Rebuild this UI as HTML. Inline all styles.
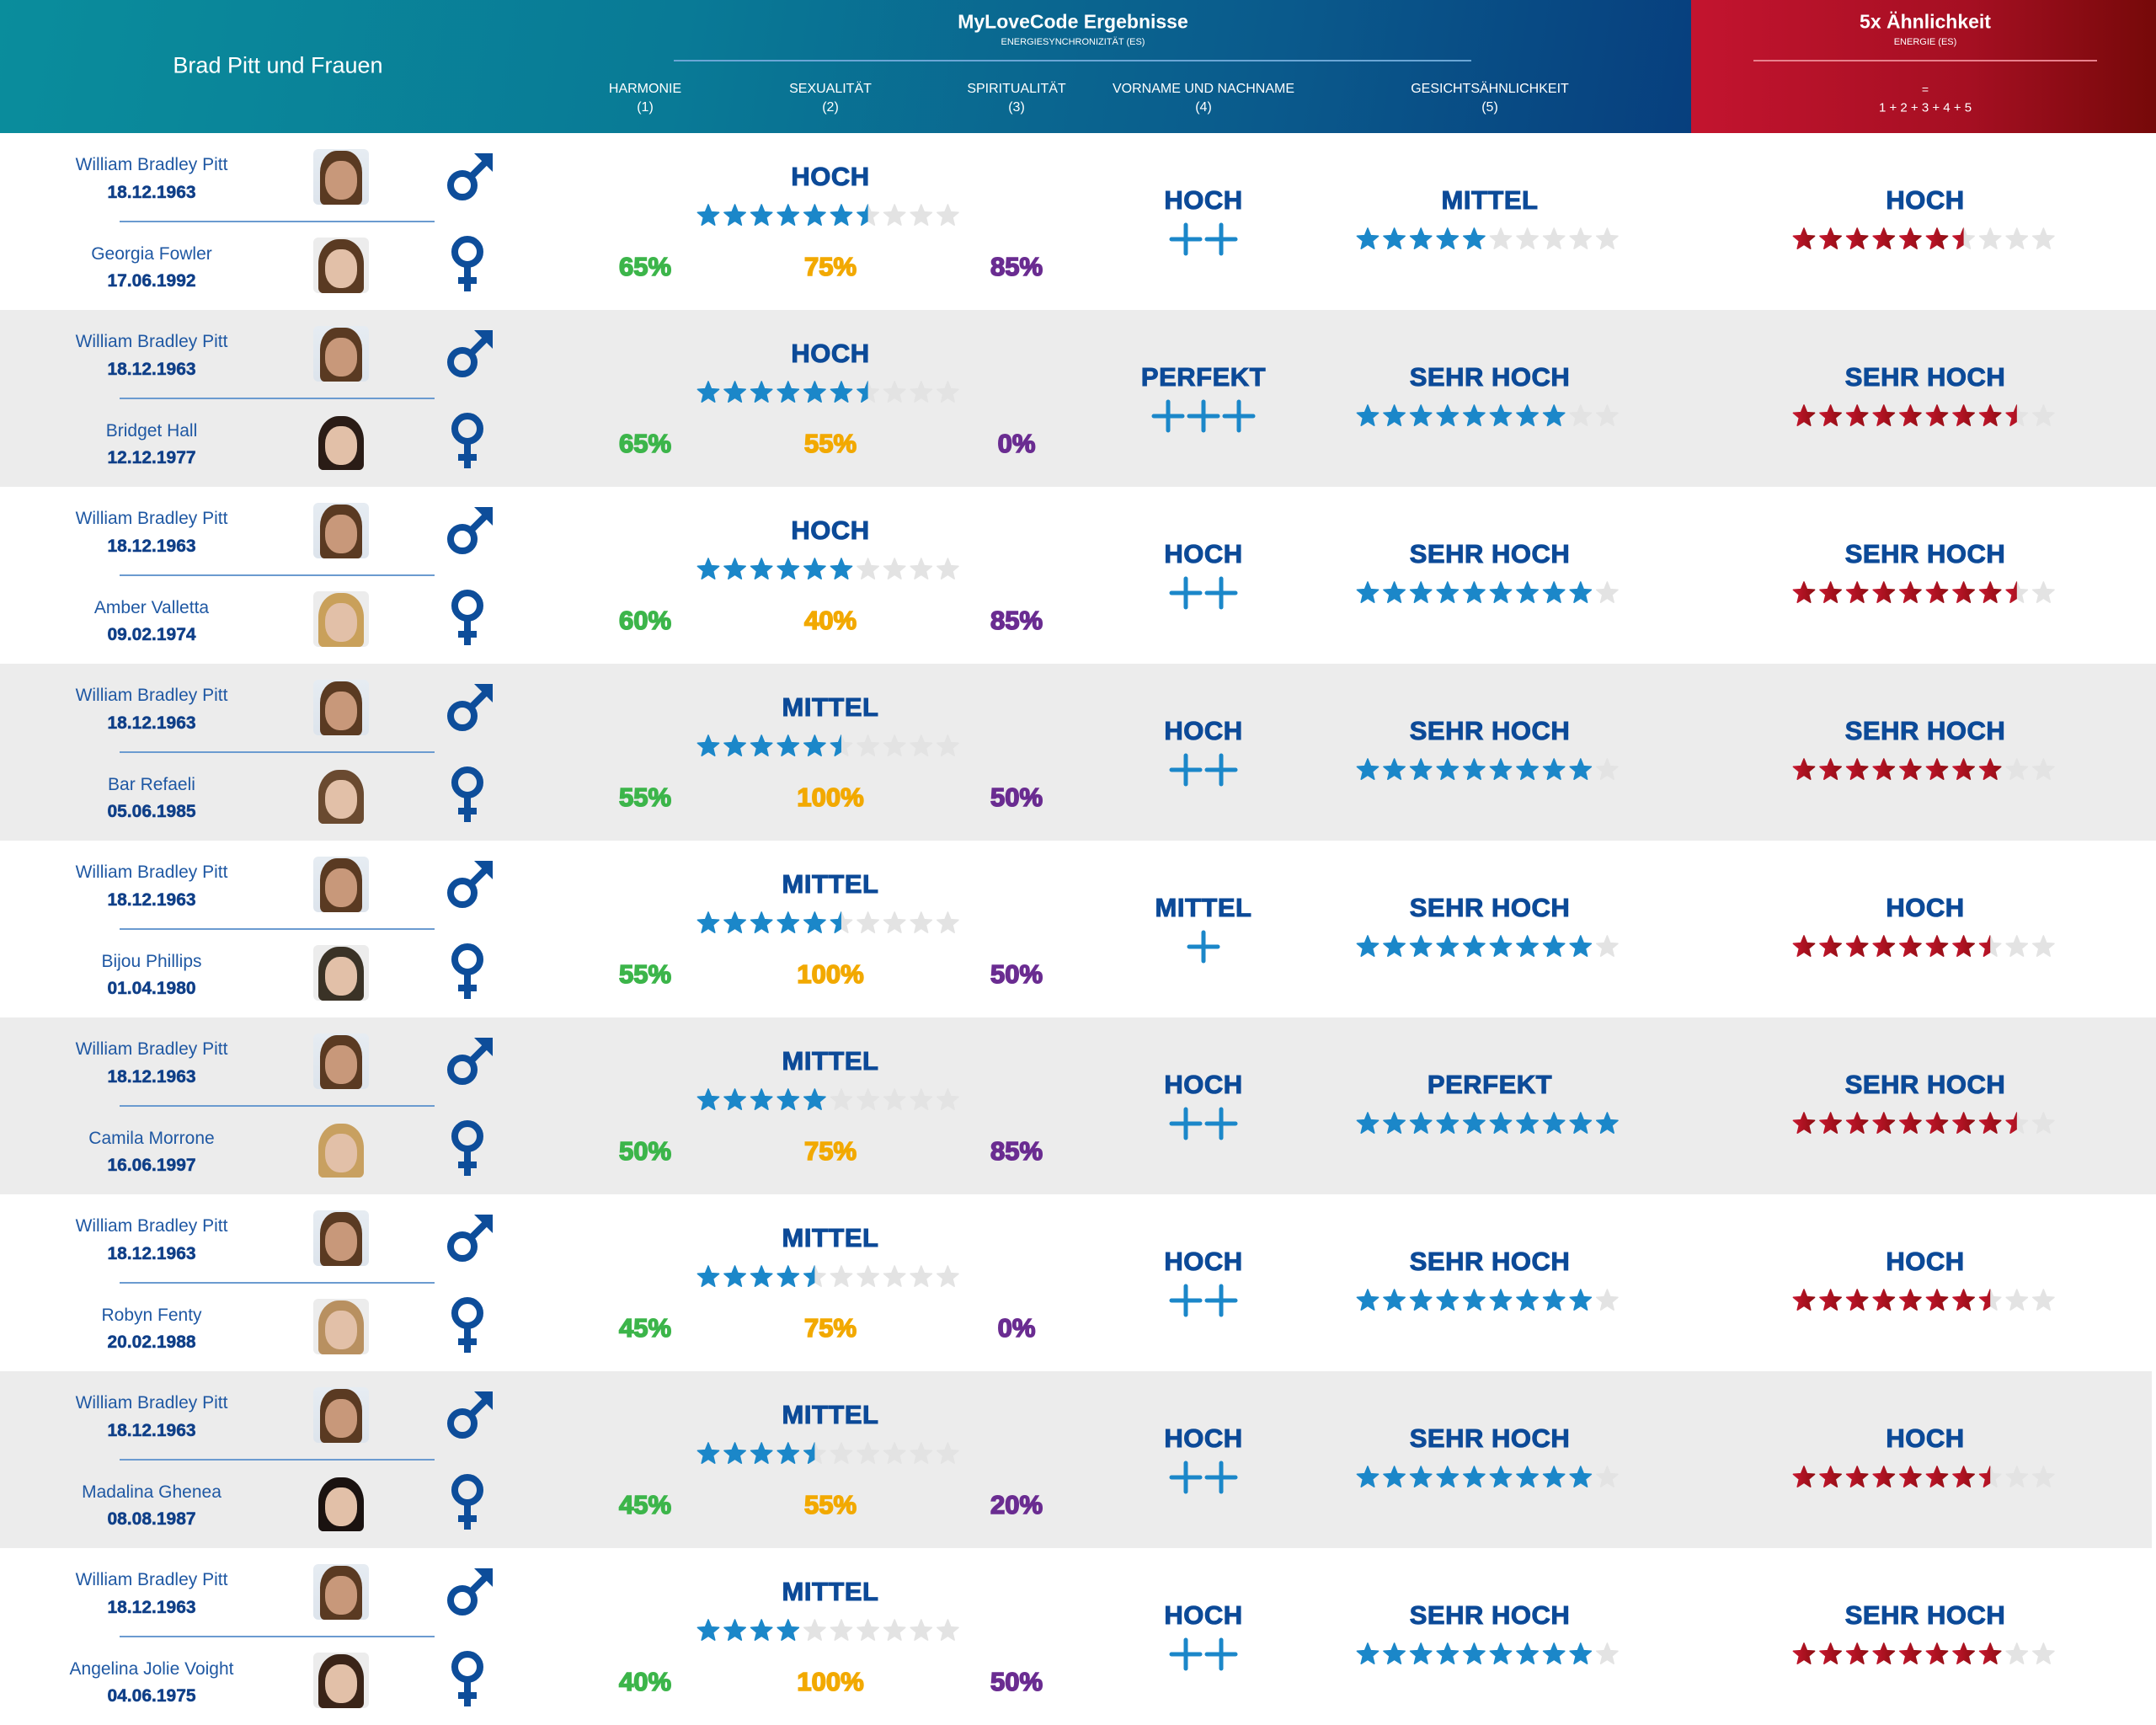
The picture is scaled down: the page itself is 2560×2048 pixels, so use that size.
<!DOCTYPE html>
<html><head><meta charset="utf-8">
<style>
*{margin:0;padding:0;box-sizing:border-box}
body{width:2560px;height:2046px;overflow:hidden;background:#fff;font-family:"Liberation Sans",sans-serif;position:relative}
.hdr{position:absolute;left:0;top:0;width:2008px;height:158px;background:linear-gradient(100deg,#0a8d9c 0%,#097a96 40%,#0a5a8c 75%,#073f7e 100%)}
.hdr2{position:absolute;left:2008px;top:0;width:552px;height:158px;background:linear-gradient(90deg,#c3142f 0%,#a50f22 60%,#760909 100%)}
.c{position:absolute;transform:translate(-50%,-50%);white-space:nowrap;text-align:center}
.w{color:#fff}
.row{position:absolute;left:0;width:2560px;height:210px}
.g{background:#ececec}
.n{font-size:21px;color:#1f58a3}
.d{font-size:21px;font-weight:bold;color:#0f3f88;-webkit-text-stroke:0.5px #0f3f88}
.lb{font-size:31px;font-weight:bold;color:#0c4a98;letter-spacing:0.5px;-webkit-text-stroke:1px #0c4a98}
.p{font-size:31px;font-weight:bold;-webkit-text-stroke:1.6px currentColor}
.ln{position:absolute;left:142px;width:374px;top:104px;height:2px;background:#6b9bd0}
.ph{position:absolute;left:372px;width:66px;height:66px;border-radius:6px;overflow:hidden}
.ph i{position:absolute;left:14px;top:14px;width:38px;height:46px;border-radius:45%;background:#d9b299}
svg{position:absolute;overflow:visible}
</style></head><body>
<div class="hdr"></div><div class="hdr2"></div>
<div class="c w" style="left:330px;top:78px;font-size:27px">Brad Pitt und Frauen</div>
<div class="c w" style="left:1274px;top:26px;font-size:23px;font-weight:bold">MyLoveCode Ergebnisse</div>
<div class="c w" style="left:1274px;top:50px;font-size:11px">ENERGIESYNCHRONIZITÄT (ES)</div>
<div style="position:absolute;left:800px;top:71px;width:947px;height:2px;background:#6aa6d6"></div>
<div class="c w" style="left:766px;top:106px;font-size:16px">HARMONIE</div>
<div class="c w" style="left:766px;top:128px;font-size:16px">(1)</div>
<div class="c w" style="left:986px;top:106px;font-size:16px">SEXUALITÄT</div>
<div class="c w" style="left:986px;top:128px;font-size:16px">(2)</div>
<div class="c w" style="left:1207px;top:106px;font-size:16px">SPIRITUALITÄT</div>
<div class="c w" style="left:1207px;top:128px;font-size:16px">(3)</div>
<div class="c w" style="left:1429px;top:106px;font-size:16px">VORNAME UND NACHNAME</div>
<div class="c w" style="left:1429px;top:128px;font-size:16px">(4)</div>
<div class="c w" style="left:1769px;top:106px;font-size:16px">GESICHTSÄHNLICHKEIT</div>
<div class="c w" style="left:1769px;top:128px;font-size:16px">(5)</div>
<div class="c w" style="left:2286px;top:26px;font-size:23px;font-weight:bold">5x Ähnlichkeit</div>
<div class="c w" style="left:2286px;top:50px;font-size:11px">ENERGIE (ES)</div>
<div style="position:absolute;left:2082px;top:71px;width:408px;height:2px;background:#e8808c"></div>
<div class="c w" style="left:2286px;top:106px;font-size:14px">=</div>
<div class="c w" style="left:2286px;top:128px;font-size:15px">1 + 2 + 3 + 4 + 5</div>

<svg width="0" height="0" style="position:absolute"><defs>
<polygon id="st" points="12,0 15.3,8.2 24,8.8 17.3,14.4 19.4,23 12,18.3 4.6,23 6.7,14.4 0,8.8 8.7,8.2" stroke-width="1.5" stroke-linejoin="round"/>
<clipPath id="hf"><rect x="-3" y="-3" width="15" height="30"/></clipPath>
<linearGradient id="rg" x1="0" x2="1"><stop offset="0" stop-color="#c8172f"/><stop offset="1" stop-color="#8e0d12"/></linearGradient>
</defs></svg>

<div class="row" style="top:158px"><div class="ln"></div>
<div class="c n" style="left:180px;top:38px">William Bradley Pitt</div><div class="c d" style="left:180px;top:71px">18.12.1963</div>
<div class="c n" style="left:180px;top:144px">Georgia Fowler</div><div class="c d" style="left:180px;top:176px">17.06.1992</div>
<div class="c lb" style="left:986px;top:52px">HOCH</div>
<div class="c p" style="left:766px;top:159px;color:#3cb54a">65%</div><div class="c p" style="left:986px;top:159px;color:#f2a900">75%</div><div class="c p" style="left:1207px;top:159px;color:#6a2c91">85%</div>
<div class="c lb" style="left:1429px;top:80px">HOCH</div><div class="c lb" style="left:1769px;top:80px">MITTEL</div><div class="c lb" style="left:2286px;top:80px">HOCH</div>
<div class="stars" data-v="6.5,5,6.5,2"></div></div>

<div class="row g" style="top:368px"><div class="ln"></div>
<div class="c n" style="left:180px;top:38px">William Bradley Pitt</div><div class="c d" style="left:180px;top:71px">18.12.1963</div>
<div class="c n" style="left:180px;top:144px">Bridget Hall</div><div class="c d" style="left:180px;top:176px">12.12.1977</div>
<div class="c lb" style="left:986px;top:52px">HOCH</div>
<div class="c p" style="left:766px;top:159px;color:#3cb54a">65%</div><div class="c p" style="left:986px;top:159px;color:#f2a900">55%</div><div class="c p" style="left:1207px;top:159px;color:#6a2c91">0%</div>
<div class="c lb" style="left:1429px;top:80px">PERFEKT</div><div class="c lb" style="left:1769px;top:80px">SEHR HOCH</div><div class="c lb" style="left:2286px;top:80px">SEHR HOCH</div>
<div class="stars" data-v="6.5,8,8.5,3"></div></div>

<div class="row" style="top:578px"><div class="ln"></div>
<div class="c n" style="left:180px;top:38px">William Bradley Pitt</div><div class="c d" style="left:180px;top:71px">18.12.1963</div>
<div class="c n" style="left:180px;top:144px">Amber Valletta</div><div class="c d" style="left:180px;top:176px">09.02.1974</div>
<div class="c lb" style="left:986px;top:52px">HOCH</div>
<div class="c p" style="left:766px;top:159px;color:#3cb54a">60%</div><div class="c p" style="left:986px;top:159px;color:#f2a900">40%</div><div class="c p" style="left:1207px;top:159px;color:#6a2c91">85%</div>
<div class="c lb" style="left:1429px;top:80px">HOCH</div><div class="c lb" style="left:1769px;top:80px">SEHR HOCH</div><div class="c lb" style="left:2286px;top:80px">SEHR HOCH</div>
<div class="stars" data-v="6,9,8.5,2"></div></div>

<div class="row g" style="top:788px"><div class="ln"></div>
<div class="c n" style="left:180px;top:38px">William Bradley Pitt</div><div class="c d" style="left:180px;top:71px">18.12.1963</div>
<div class="c n" style="left:180px;top:144px">Bar Refaeli</div><div class="c d" style="left:180px;top:176px">05.06.1985</div>
<div class="c lb" style="left:986px;top:52px">MITTEL</div>
<div class="c p" style="left:766px;top:159px;color:#3cb54a">55%</div><div class="c p" style="left:986px;top:159px;color:#f2a900">100%</div><div class="c p" style="left:1207px;top:159px;color:#6a2c91">50%</div>
<div class="c lb" style="left:1429px;top:80px">HOCH</div><div class="c lb" style="left:1769px;top:80px">SEHR HOCH</div><div class="c lb" style="left:2286px;top:80px">SEHR HOCH</div>
<div class="stars" data-v="5.5,9,8,2"></div></div>

<div class="row" style="top:998px"><div class="ln"></div>
<div class="c n" style="left:180px;top:38px">William Bradley Pitt</div><div class="c d" style="left:180px;top:71px">18.12.1963</div>
<div class="c n" style="left:180px;top:144px">Bijou Phillips</div><div class="c d" style="left:180px;top:176px">01.04.1980</div>
<div class="c lb" style="left:986px;top:52px">MITTEL</div>
<div class="c p" style="left:766px;top:159px;color:#3cb54a">55%</div><div class="c p" style="left:986px;top:159px;color:#f2a900">100%</div><div class="c p" style="left:1207px;top:159px;color:#6a2c91">50%</div>
<div class="c lb" style="left:1429px;top:80px">MITTEL</div><div class="c lb" style="left:1769px;top:80px">SEHR HOCH</div><div class="c lb" style="left:2286px;top:80px">HOCH</div>
<div class="stars" data-v="5.5,9,7.5,1"></div></div>

<div class="row g" style="top:1208px"><div class="ln"></div>
<div class="c n" style="left:180px;top:38px">William Bradley Pitt</div><div class="c d" style="left:180px;top:71px">18.12.1963</div>
<div class="c n" style="left:180px;top:144px">Camila Morrone</div><div class="c d" style="left:180px;top:176px">16.06.1997</div>
<div class="c lb" style="left:986px;top:52px">MITTEL</div>
<div class="c p" style="left:766px;top:159px;color:#3cb54a">50%</div><div class="c p" style="left:986px;top:159px;color:#f2a900">75%</div><div class="c p" style="left:1207px;top:159px;color:#6a2c91">85%</div>
<div class="c lb" style="left:1429px;top:80px">HOCH</div><div class="c lb" style="left:1769px;top:80px">PERFEKT</div><div class="c lb" style="left:2286px;top:80px">SEHR HOCH</div>
<div class="stars" data-v="5,10,8.5,2"></div></div>

<div class="row" style="top:1418px"><div class="ln"></div>
<div class="c n" style="left:180px;top:38px">William Bradley Pitt</div><div class="c d" style="left:180px;top:71px">18.12.1963</div>
<div class="c n" style="left:180px;top:144px">Robyn Fenty</div><div class="c d" style="left:180px;top:176px">20.02.1988</div>
<div class="c lb" style="left:986px;top:52px">MITTEL</div>
<div class="c p" style="left:766px;top:159px;color:#3cb54a">45%</div><div class="c p" style="left:986px;top:159px;color:#f2a900">75%</div><div class="c p" style="left:1207px;top:159px;color:#6a2c91">0%</div>
<div class="c lb" style="left:1429px;top:80px">HOCH</div><div class="c lb" style="left:1769px;top:80px">SEHR HOCH</div><div class="c lb" style="left:2286px;top:80px">HOCH</div>
<div class="stars" data-v="4.5,9,7.5,2"></div></div>

<div class="row g" style="top:1628px;width:2555px"><div class="ln"></div>
<div class="c n" style="left:180px;top:38px">William Bradley Pitt</div><div class="c d" style="left:180px;top:71px">18.12.1963</div>
<div class="c n" style="left:180px;top:144px">Madalina Ghenea</div><div class="c d" style="left:180px;top:176px">08.08.1987</div>
<div class="c lb" style="left:986px;top:52px">MITTEL</div>
<div class="c p" style="left:766px;top:159px;color:#3cb54a">45%</div><div class="c p" style="left:986px;top:159px;color:#f2a900">55%</div><div class="c p" style="left:1207px;top:159px;color:#6a2c91">20%</div>
<div class="c lb" style="left:1429px;top:80px">HOCH</div><div class="c lb" style="left:1769px;top:80px">SEHR HOCH</div><div class="c lb" style="left:2286px;top:80px">HOCH</div>
<div class="stars" data-v="4.5,9,7.5,2"></div></div>

<div class="row" style="top:1838px"><div class="ln"></div>
<div class="c n" style="left:180px;top:38px">William Bradley Pitt</div><div class="c d" style="left:180px;top:71px">18.12.1963</div>
<div class="c n" style="left:180px;top:144px">Angelina Jolie Voight</div><div class="c d" style="left:180px;top:176px">04.06.1975</div>
<div class="c lb" style="left:986px;top:52px">MITTEL</div>
<div class="c p" style="left:766px;top:159px;color:#3cb54a">40%</div><div class="c p" style="left:986px;top:159px;color:#f2a900">100%</div><div class="c p" style="left:1207px;top:159px;color:#6a2c91">50%</div>
<div class="c lb" style="left:1429px;top:80px">HOCH</div><div class="c lb" style="left:1769px;top:80px">SEHR HOCH</div><div class="c lb" style="left:2286px;top:80px">SEHR HOCH</div>
<div class="stars" data-v="4,9,8,2"></div></div>

<script>
function starRow(x,y,v,fill){
  let s='';
  for(let i=0;i<10;i++){
    const tx=x+i*31.6-0.6;
    const tr=`translate(${tx},${y-1}) scale(1.05)`;
    s+=`<use href="#st" transform="${tr}" fill="#e3e3e3" stroke="#e3e3e3"/>`;
    if(i+1<=v) s+=`<use href="#st" transform="${tr}" fill="${fill}" stroke="${fill}"/>`;
    else if(i+0.5<=v) s+=`<use href="#st" clip-path="url(#hf)" transform="${tr}" fill="${fill}" stroke="${fill}"/>`;
  }
  return s;
}
const hair=['#5a3a22','#2a1c16','#c9a05a','#6a4a30','#3a3226','#c8a060','#b89060','#1a1210','#3a2418','#2a1a14'];
document.querySelectorAll('.stars').forEach((el,ri)=>{
  const [a,b,c,p]=el.dataset.v.split(',').map(Number);
  let svg=`<svg style="left:0;top:0" width="2560" height="210">`;
  svg+=starRow(829,86,a,'#1b87c9');
  svg+=starRow(1612,114,b,'#1b87c9');
  svg+=starRow(2130,114,c,'url(#rg)');
  const pw=42, sx=1429-(p*pw)/2+pw/2;
  for(let i=0;i<p;i++){const cx=sx+i*pw;
    svg+=`<g stroke="#1b87c9" stroke-width="5" stroke-linecap="round"><line x1="${cx-17}" y1="126" x2="${cx+17}" y2="126"/><line x1="${cx}" y1="109" x2="${cx}" y2="143"/></g>`;}
  svg+=`<g stroke="#0d4d9a" stroke-width="8" fill="none"><circle cx="549" cy="62" r="14"/><line x1="559" y1="52" x2="576" y2="35"/></g><polygon points="563,24 585,24 585,46" fill="#0d4d9a"/>`;
  svg+=`<g stroke="#0d4d9a" stroke-width="8" fill="none"><circle cx="555" cy="141" r="15"/><line x1="555" y1="156" x2="555" y2="188"/><line x1="544" y1="175" x2="566" y2="175"/></g>`;
  svg+=`</svg>`;
  svg+=`<div class="ph" style="top:19px;background:linear-gradient(#e6ecf2,#dde4ec)"><div style="position:absolute;left:8px;top:2px;width:50px;height:64px;border-radius:40% 40% 10% 10%;background:#5a3a22"></div><i style="background:#c8987a"></i></div>`;
  svg+=`<div class="ph" style="top:124px;background:#ececec"><div style="position:absolute;left:6px;top:2px;width:54px;height:64px;border-radius:45% 45% 10% 10%;background:${hair[ri]}"></div><i style="background:#e2c0a8"></i></div>`;
  el.innerHTML=svg;
});
</script>
</body></html>
